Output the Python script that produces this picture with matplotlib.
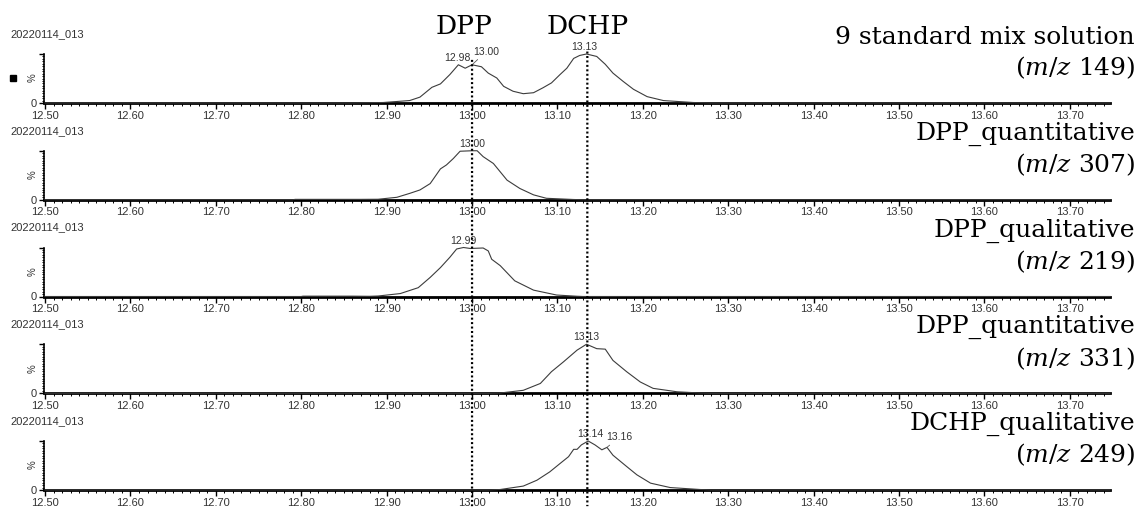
import numpy as np
import matplotlib
matplotlib.use("Agg")
import matplotlib.pyplot as plt
from matplotlib.ticker import MultipleLocator, FixedLocator, FixedFormatter, FormatStrFormatter
from matplotlib.patches import ConnectionPatch
from matplotlib.lines import Line2D

plt.rcParams["mathtext.fontset"] = "dejavuserif"

# ---- chromatogram traces (retention time in min, relative intensity in %) ----
rt_mix = [12.50, 12.86, 12.896, 12.927, 12.939, 12.953, 12.963, 12.974, 12.984, 12.992,
          13.000, 13.011, 13.019, 13.029, 13.037, 13.048, 13.060, 13.072, 13.083, 13.093,
          13.103, 13.111, 13.119, 13.126, 13.134, 13.146, 13.156, 13.165, 13.177, 13.189,
          13.205, 13.224, 13.259, 13.28, 13.747]
int_mix = [0, 0, 1, 5, 12, 32, 39, 58, 78, 71,
           78, 74, 61, 51, 34, 24, 19, 21, 31, 41,
           58, 71, 91, 97, 100, 95, 79, 61, 44, 28,
           13, 5, 1, 0, 0]

rt_307 = [12.50, 12.79, 12.793, 12.87, 12.890, 12.912, 12.927, 12.939, 12.951, 12.963,
          12.970, 12.978, 12.986, 13.000, 13.006, 13.013, 13.025, 13.041, 13.056, 13.072,
          13.087, 13.119, 13.13, 13.747]
int_307 = [0, 0, 0.8, 0.8, 1, 5, 13, 20, 33, 63,
           71, 84, 99, 100, 100, 88, 74, 40, 23, 10,
           3, 0.5, 0, 0]

rt_219 = [12.50, 12.80, 12.802, 12.86, 12.88, 12.890, 12.916, 12.937, 12.951, 12.963,
          12.974, 12.982, 12.990, 12.998, 13.013, 13.019, 13.023, 13.033, 13.050, 13.072,
          13.099, 13.123, 13.13, 13.747]
int_219 = [0, 0, 0.7, 0.7, 0.4, 1, 6, 18, 39, 59,
           80, 97, 100, 98, 99, 93, 76, 63, 32, 13,
           3, 0.5, 0, 0]

rt_331 = [12.50, 13.02, 13.033, 13.060, 13.080, 13.093, 13.107, 13.123, 13.134, 13.146,
          13.156, 13.165, 13.181, 13.197, 13.212, 13.240, 13.267, 13.28, 13.747]
int_331 = [0, 0, 0.5, 6, 20, 44, 64, 88, 100, 91,
           90, 67, 44, 23, 10, 3, 0.5, 0, 0]

rt_249 = [12.50, 13.02, 13.033, 13.060, 13.076, 13.091, 13.103, 13.113, 13.119, 13.123,
          13.128, 13.136, 13.144, 13.152, 13.158, 13.165, 13.181, 13.193, 13.209, 13.232,
          13.267, 13.28, 13.747]
int_249 = [0, 0, 1, 8, 20, 37, 54, 68, 83, 83,
           92, 100, 92, 82, 87, 71, 48, 31, 14, 5,
           1, 0, 0]

# apex retention times annotated on each trace
peaks_mix = [12.984, 13.000, 13.134]
peaks_307 = [13.000]
peaks_219 = [12.990]
peaks_331 = [13.134]
peaks_249 = [13.136, 13.158]

trace_names = ["9 standard mix solution", "DPP_quantitative", "DPP_qualitative",
               "DPP_quantitative", "DCHP_qualitative"]
trace_mz = ["149", "307", "219", "331", "249"]
sample_id = "20220114_013"

compound_names = ["DPP", "DCHP"]
compound_rt = [13.000, 13.135]

x_major = [12.50, 12.60, 12.70, 12.80, 12.90, 13.00, 13.10, 13.20, 13.30, 13.40, 13.50, 13.60, 13.70]

traces = [(rt_mix, int_mix, peaks_mix), (rt_307, int_307, peaks_307),
          (rt_219, int_219, peaks_219), (rt_331, int_331, peaks_331),
          (rt_249, int_249, peaks_249)]

# label placement for each apex label (pixel offsets, leader line)
label_offsets = [
    [(-1, 2, False), (14, 8, True), (-2, 2, False)],
    [(0, 2, False)],
    [(0, 2, False)],
    [(0, 2, False)],
    [(2, 2, False), (12, 5, True)],
]

# ---- layout ----
W, H = 1141, 508
fig = plt.figure(figsize=(W / 100, H / 100), dpi=100)
left_px, right_px, ax_h = 44, 1110, 49
tops = [54 + 96.75 * i for i in range(5)]

ink = "#333333"
axes = []
for i, (rt, inten, peaks) in enumerate(traces):
    top = tops[i]
    ax = fig.add_axes([left_px / W, 1 - (top + ax_h) / H, (right_px - left_px) / W, ax_h / H])
    axes.append(ax)
    ax.plot(rt, inten, color="#3c3c3c", lw=0.8, clip_on=False, zorder=3)
    ax.set_xlim(12.4988, 13.747)
    ax.set_ylim(0, 100)
    for s in ("top", "right"):
        ax.spines[s].set_visible(False)
    ax.spines["bottom"].set_linewidth(2.0)
    ax.spines["left"].set_linewidth(1.2)
    ax.patch.set_alpha(0)

    ax.xaxis.set_major_locator(FixedLocator(x_major))
    ax.xaxis.set_major_formatter(FormatStrFormatter("%.2f"))
    ax.xaxis.set_minor_locator(MultipleLocator(0.01))
    ax.tick_params(axis="x", which="major", length=4, width=1, pad=1.5,
                   labelsize=8, labelcolor=ink, direction="out")
    ax.tick_params(axis="x", which="minor", length=2, width=0.7, direction="out")

    ax.yaxis.set_major_locator(FixedLocator([0, 100]))
    ax.yaxis.set_major_formatter(FixedFormatter(["0", ""]))
    ax.yaxis.set_minor_locator(MultipleLocator(5))
    ax.tick_params(axis="y", which="major", length=3.5, width=1, pad=1.5,
                   labelsize=8, labelcolor=ink)
    ax.tick_params(axis="y", which="minor", length=1.8, width=0.7)
    for lab in ax.get_xticklabels() + ax.get_yticklabels():
        lab.set_fontfamily("Liberation Sans")

    # apex labels
    for rt_pk, (dx, dy, leader) in zip(peaks, label_offsets[i]):
        y_pk = np.interp(rt_pk, rt, inten)
        ax.annotate(f"{rt_pk:.2f}", xy=(rt_pk, y_pk), xytext=(dx, dy),
                    textcoords="offset pixels", ha="center", va="bottom",
                    fontsize=7.5, color=ink, family="Liberation Sans",
                    annotation_clip=False,
                    arrowprops=dict(arrowstyle="-", color="#555555", lw=0.6,
                                    shrinkA=0, shrinkB=0) if leader else None)

    # sample id header, y label and trace title
    fig.text(10 / W, 1 - (top - 20) / H, sample_id, fontsize=8, color=ink,
             family="Liberation Sans", ha="left", va="center")
    fig.text(33 / W, 1 - (top + 24) / H, "%", fontsize=7, color=ink,
             family="Liberation Sans", rotation=90, ha="center", va="center")
    fig.text(1135 / W, 1 - (top - 17) / H, trace_names[i], fontsize=18,
             family="DejaVu Serif", ha="right", va="center")
    fig.text(1135 / W, 1 - (top + 14) / H, f"($\\mathit{{m/z}}$ {trace_mz[i]})", fontsize=18,
             family="DejaVu Serif", ha="right", va="center")

# marker square beside the first trace
fig.add_artist(Line2D([13 / W], [1 - 78 / H], marker="s", markersize=4.5,
                      color="black", transform=fig.transFigure))

# dotted retention-time guides through all traces
guide_tops = [88, 105]
name_dx = [-8, 0]
for rt_c, name, y_top, dx in zip(compound_rt, compound_names, guide_tops, name_dx):
    con = ConnectionPatch(xyA=(rt_c, y_top), coordsA=axes[0].transData,
                          xyB=(rt_c, -33), coordsB=axes[-1].transData,
                          color="black", lw=1.6, linestyle=(0, (0.9, 1.1)),
                          capstyle="butt", zorder=5)
    fig.add_artist(con)
    axes[0].annotate(name, xy=(rt_c, 100), xytext=(dx, 1 - 26 / H),
                     xycoords="data", textcoords=("offset pixels", "figure fraction"),
                     ha="center", va="center", fontsize=19, family="DejaVu Serif",
                     annotation_clip=False)

fig.savefig("out.png", dpi=100)
